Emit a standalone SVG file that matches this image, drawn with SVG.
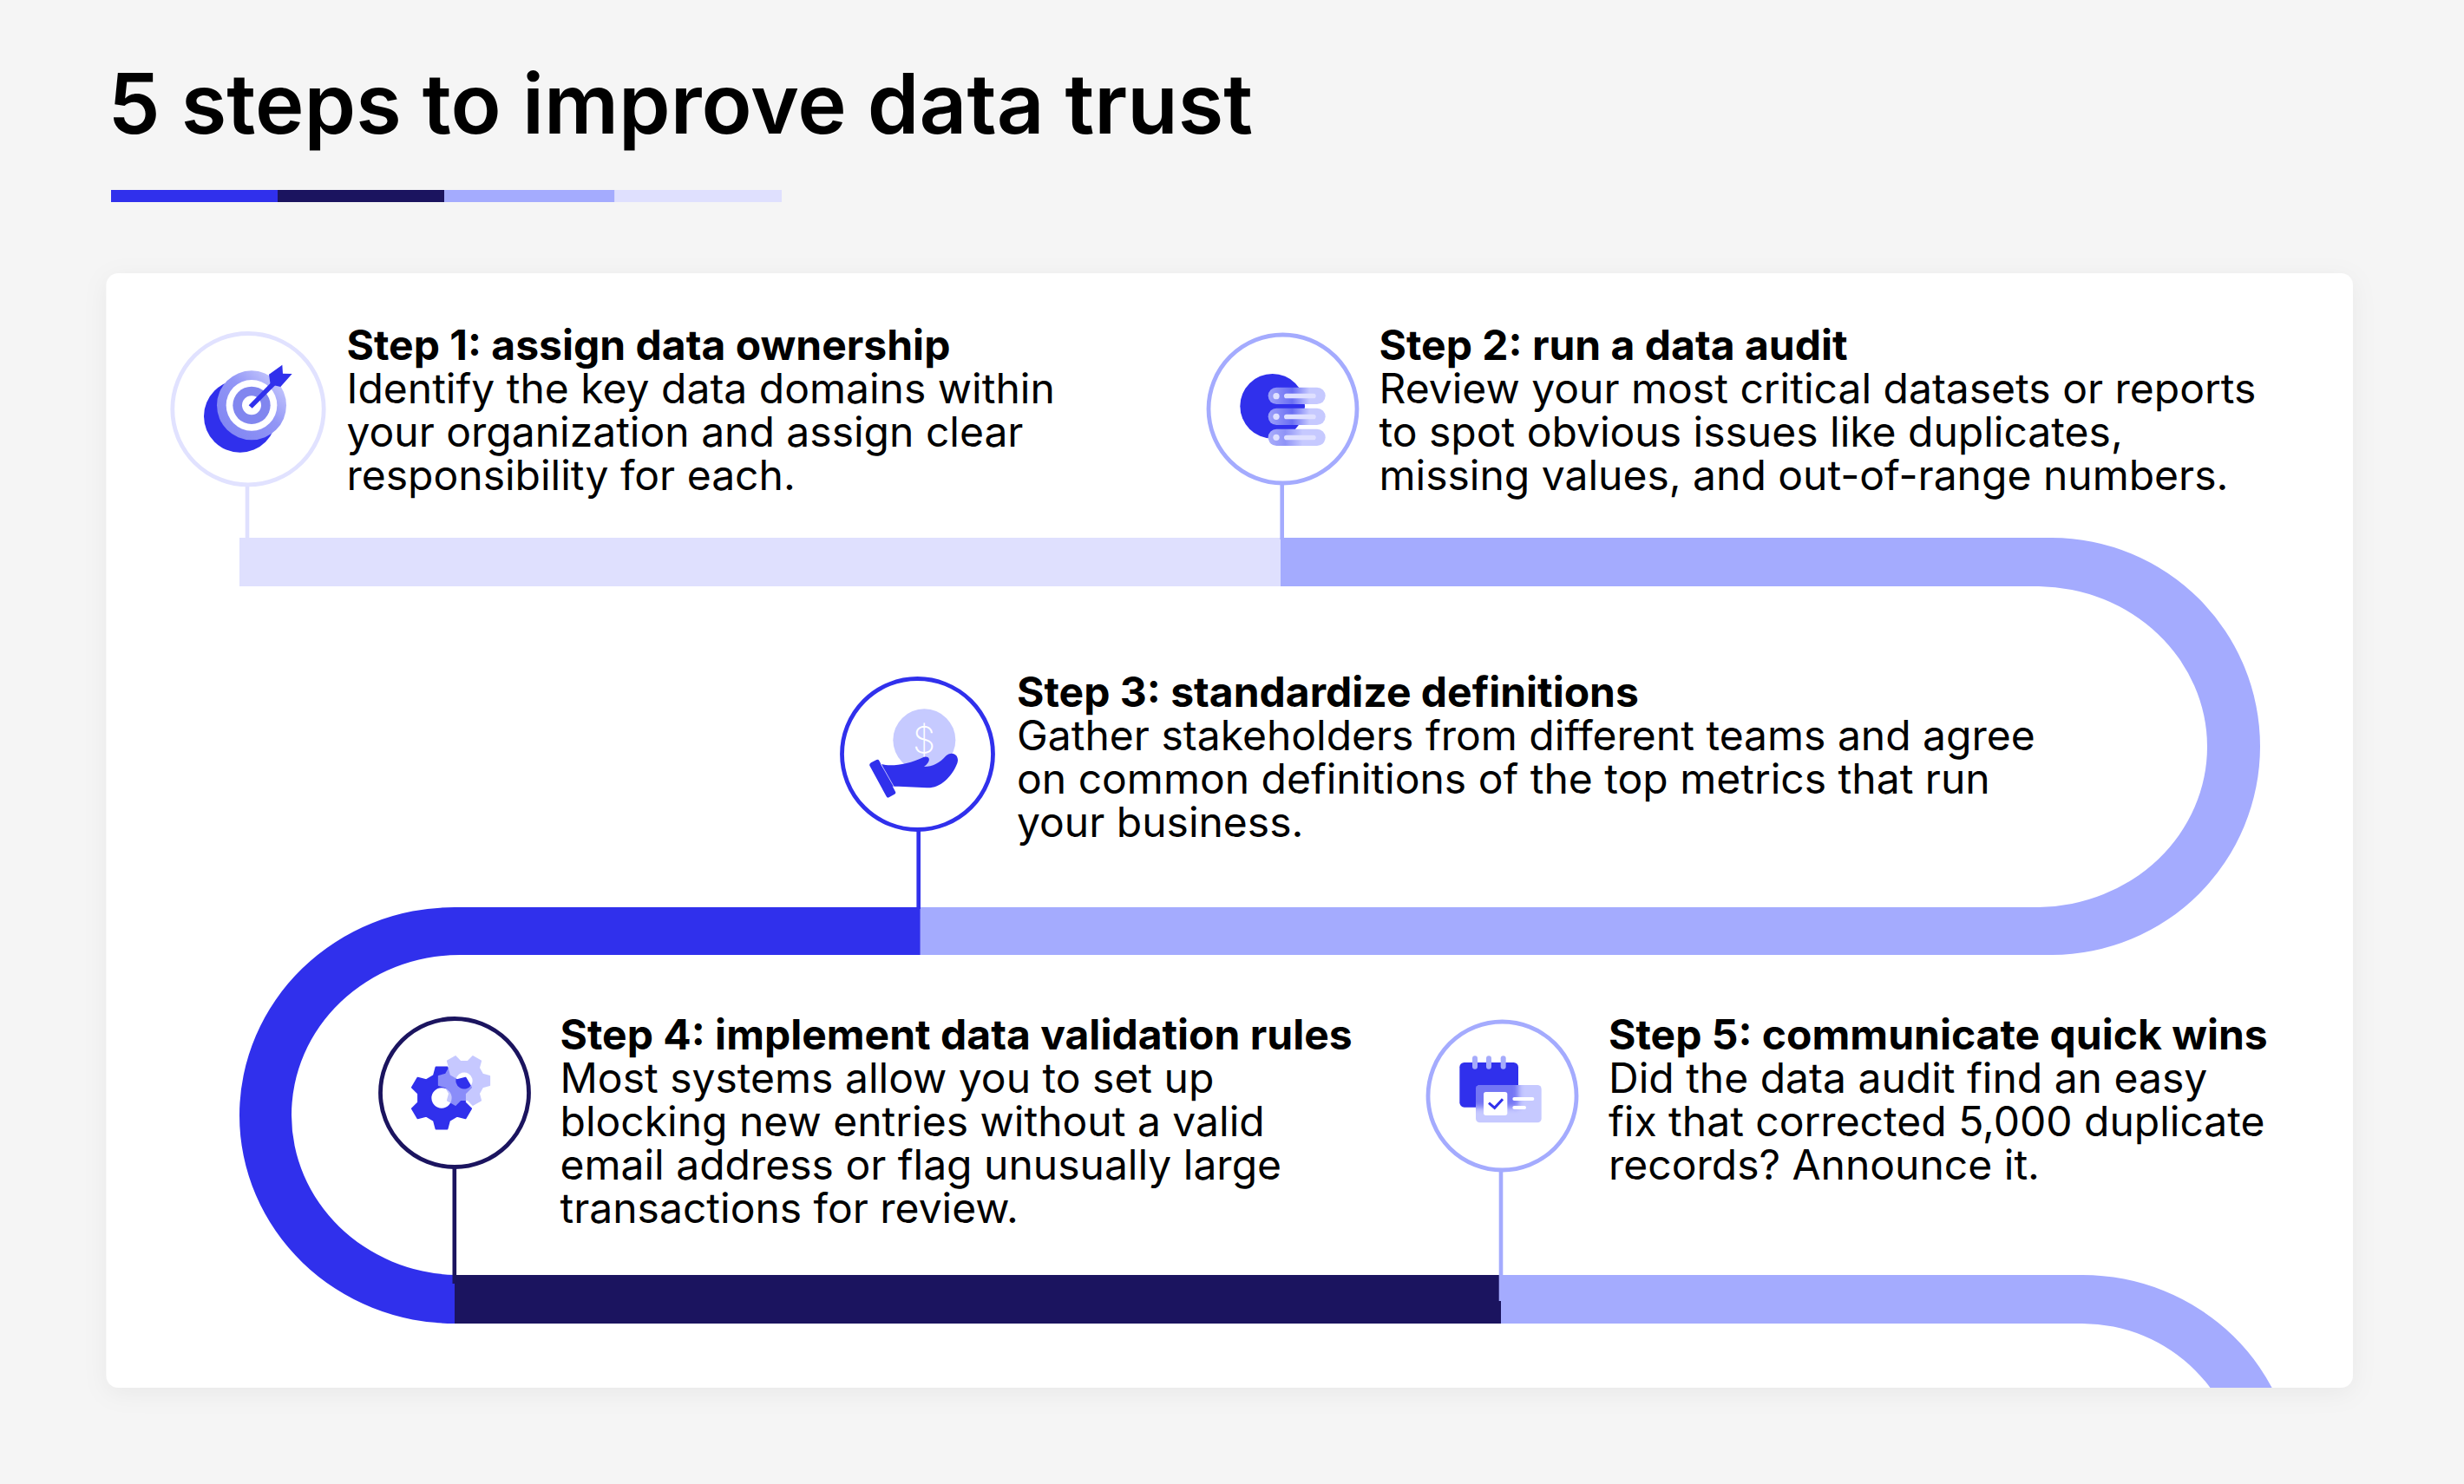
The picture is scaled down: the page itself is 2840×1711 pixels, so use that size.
<svg xmlns="http://www.w3.org/2000/svg" width="2840" height="1711" viewBox="0 0 2840 1711">
<style>
text{font-family:"Inter","Liberation Sans",sans-serif;fill:#000}
.ttl{font-size:95.6px;font-weight:600}
.h{font-size:48px;font-weight:700}
.b{font-size:48px;font-weight:400}
.ring{fill:#fff;stroke-width:4.8}
.stem{stroke-width:4.6;fill:none}
.c0{fill:#DFE0FE}.c1{fill:#A4ABFE}.c2{fill:#3030EC}.c3{fill:#1B145F}
</style>
<defs>
<filter id="sh" x="-5%" y="-5%" width="110%" height="115%"><feDropShadow dx="0" dy="6" stdDeviation="14" flood-color="#000" flood-opacity=".05"/></filter>
<filter id="bl" x="-30%" y="-30%" width="160%" height="160%"><feGaussianBlur stdDeviation="9"/></filter>
<clipPath id="cardclip"><rect x="122" y="315" width="2590" height="1285" rx="14"/></clipPath>
<clipPath id="cc5"><rect x="213" y="273" width="227" height="130" rx="14"/></clipPath>
<linearGradient id="tg" x1="0" y1="1" x2="1" y2="0"><stop offset="0" stop-color="#7D82F2"/><stop offset=".55" stop-color="#9296F6"/><stop offset="1" stop-color="#D6D8FF"/></linearGradient>
<linearGradient id="p1" x1="0" y1="0" x2="1" y2="0"><stop offset="0" stop-color="#9DA1F9"/><stop offset=".42" stop-color="#6A6EF3"/><stop offset=".72" stop-color="#C6C9FF"/></linearGradient>
<linearGradient id="p2" x1="0" y1="0" x2="1" y2="0"><stop offset="0" stop-color="#A9ADFB"/><stop offset=".3" stop-color="#8F93F7"/><stop offset=".6" stop-color="#C6C9FF"/></linearGradient>
<path id="gear" fill-rule="evenodd" stroke-width="6" stroke-linejoin="round" d="M-28,-80L-20,-110L20,-110L28,-80L55.3,-64.2L85.3,-72.3L105.3,-37.7L83.3,-15.8L83.3,15.8L105.3,37.7L85.3,72.3L55.3,64.2L28,80L20,110L-20,110L-28,80L-55.3,64.2L-85.3,72.3L-105.3,37.7L-83.3,15.8L-83.3,-15.8L-105.3,-37.7L-85.3,-72.3L-55.3,-64.2ZM39,0a39,39 0 1,0 -78,0a39,39 0 1,0 78,0Z"/>
</defs>
<rect width="2840" height="1711" fill="#F5F5F5"/>
<g id="title">
<text class="ttl" x="124.500" y="154">5 steps to improve data trust</text>
<rect class="c2" x="128" y="219" width="192" height="14"/>
<rect class="c3" x="320" y="219" width="192" height="14"/>
<rect class="c1" x="512" y="219" width="196.500" height="14"/>
<rect class="c0" x="708.500" y="219" width="192.500" height="14"/>
</g>
<rect id="card" x="122.500" y="315" width="2589.500" height="1285" rx="14" fill="#fff" filter="url(#sh)"/>
<g id="connectors">
<rect class="c0" x="276" y="620" width="1200" height="56"/>
<path class="c1" d="M1476,620H2365A240.500,240.500 0 0 1 2605,860.500A240.500,240.500 0 0 1 2365,1101H1060.700V1046H2350A197,185 0 0 0 2544,860.500A197,185 0 0 0 2350,676H1476Z"/>
<path class="c2" d="M1060.700,1046H524A248,240 0 0 0 276,1286A248,240 0 0 0 524,1526V1470A194,184.500 0 0 1 336,1286A194,184.500 0 0 1 530,1101H1060.700Z"/>
<rect class="c3" x="524" y="1470" width="1206" height="56"/>
<g clip-path="url(#cardclip)"><path class="c1" d="M1730,1470H2400A246,240 0 0 1 2646,1710H2584A184,184 0 0 0 2400,1526H1730Z"/></g>
<path class="stem" stroke="#DFE0FE" d="M285,558V620"/>
<path class="stem" stroke="#A4ABFE" d="M1477.700,558V622"/>
<path class="stem" stroke="#3030EC" d="M1058.700,956V1048"/>
<path class="stem" stroke="#1B145F" d="M523.800,1344V1480"/>
<path class="stem" stroke="#A4ABFE" d="M1730,1350V1500"/>
</g>
<g id="step1">
<circle class="ring" cx="286" cy="471.700" r="87.200" stroke="#E1E2FF"/>
<g transform="translate(170,360) scale(.33333)">
<circle cx="320" cy="360" r="125" fill="#3030EC"/>
<circle cx="360" cy="322" r="120" fill="url(#tg)"/>
<circle cx="360" cy="322" r="88" fill="#fff"/>
<circle cx="360" cy="322" r="65" fill="#8186EF"/>
<circle cx="360" cy="322" r="33" fill="#fff"/>
<path d="M350,322L434,236L446,248L362,332Z" fill="#3030EC"/>
<path d="M420,215L466,182L468,212L500,213L460,258L425,250Z" fill="#3030EC"/>
</g>
<text class="h" x="399.500" y="415">Step 1: assign data ownership</text>
<text class="b" x="399.500" y="465">Identify the key data domains within</text>
<text class="b" x="399.500" y="515">your organization and assign clear</text>
<text class="b" x="399.500" y="565">responsibility for each.</text>
</g>
<g id="step2">
<circle class="ring" cx="1478.500" cy="471.500" r="85.500" stroke="#A4ABFE"/>
<g transform="translate(1360,360) scale(.33333)">
<circle cx="320" cy="325" r="112" fill="#3030EC"/>
<rect x="305" y="260" width="198" height="58" rx="29" fill="url(#p1)"/>
<rect x="305" y="332" width="198" height="58" rx="29" fill="url(#p1)"/>
<rect x="305" y="404" width="198" height="58" rx="29" fill="url(#p2)"/>
<g fill="#DFE0FF">
<circle cx="333" cy="290" r="11"/><circle cx="333" cy="361" r="11"/><circle cx="333" cy="433" r="11"/>
<rect x="360" y="281" width="110" height="17" rx="8.500"/><rect x="360" y="353" width="110" height="17" rx="8.500"/><rect x="360" y="425" width="110" height="17" rx="8.500"/>
</g>
</g>
<text class="h" x="1589.500" y="415">Step 2: run a data audit</text>
<text class="b" x="1589.500" y="465">Review your most critical datasets or reports</text>
<text class="b" x="1589.500" y="515">to spot obvious issues like duplicates,</text>
<text class="b" x="1589.500" y="565">missing values, and out-of-range numbers.</text>
</g>
<g id="step3">
<circle class="ring" cx="1057.500" cy="869.500" r="87" stroke="#3030EC"/>
<g transform="translate(950,760) scale(.33333)">
<circle cx="346" cy="280" r="108" fill="#C6CAFF"/>
<path d="M198,363C230,372 290,365 345,338C365,335 372,350 345,372C375,372 400,358 420,335C440,315 470,330 460,360C440,410 400,447 355,445C310,442 270,440 225,440Z" fill="#3030EC"/>
<path d="M162,358L181,348Q187,345 190,351L246,458Q249,464 243,467L224,478Q218,481 215,475L157,368Q155,362 162,358Z" fill="#3030EC"/>
<path d="M196,362L243,445" stroke="#fff" stroke-width="2" fill="none"/>
</g>
<text x="1065" y="868" text-anchor="middle" style="font-size:42px;font-weight:200;fill:#fff">$</text>
<text class="h" x="1172" y="815">Step 3: standardize definitions</text>
<text class="b" x="1172" y="865">Gather stakeholders from different teams and agree</text>
<text class="b" x="1172" y="915">on common definitions of the top metrics that run</text>
<text class="b" x="1172" y="965">your business.</text>
</g>
<g id="step4">
<circle class="ring" cx="524" cy="1260" r="85.500" stroke="#1B145F"/>
<g transform="translate(420,1160) scale(.33333)">
<use href="#gear" transform="translate(267,318) scale(.97)" fill="#3030EC" stroke="#3030EC"/>
<use href="#gear" transform="translate(345,258) rotate(30) scale(.8)" fill="rgb(175,179,255)" stroke="rgb(175,179,255)" opacity=".71"/>
</g>
<text class="h" x="645.500" y="1210">Step 4: implement data validation rules</text>
<text class="b" x="645.500" y="1260">Most systems allow you to set up</text>
<text class="b" x="645.500" y="1310">blocking new entries without a valid</text>
<text class="b" x="645.500" y="1360">email address or flag unusually large</text>
<text class="b" x="645.500" y="1410">transactions for review.</text>
</g>
<g id="step5">
<circle class="ring" cx="1731.500" cy="1263.500" r="85.500" stroke="#A4ABFE"/>
<g transform="translate(1630,1160) scale(.33333)">
<rect x="157" y="195" width="203" height="155" rx="16" fill="#3030EC"/>
<g fill="#A6ABFB"><rect x="201" y="172" width="18" height="46" rx="9"/><rect x="249" y="172" width="18" height="46" rx="9"/><rect x="299" y="172" width="18" height="46" rx="9"/></g>
<rect x="213" y="273" width="227" height="130" rx="14" fill="#C6C9FF"/>
<g clip-path="url(#cc5)"><rect x="157" y="195" width="203" height="155" fill="#3030EC" opacity=".55" filter="url(#bl)"/></g>
<rect x="240" y="297" width="82" height="81" rx="8" fill="#fff"/>
<path d="M258,335L278,352L306,322" fill="none" stroke="#3030EC" stroke-width="9"/>
<rect x="340" y="315" width="75" height="12" rx="6" fill="#fff"/>
<rect x="340" y="345" width="47" height="12" rx="6" fill="#fff"/>
</g>
<text class="h" x="1854" y="1210">Step 5: communicate quick wins</text>
<text class="b" x="1854" y="1260">Did the data audit find an easy</text>
<text class="b" x="1854" y="1310">fix that corrected 5,000 duplicate</text>
<text class="b" x="1854" y="1360">records? Announce it.</text>
</g>
</svg>
